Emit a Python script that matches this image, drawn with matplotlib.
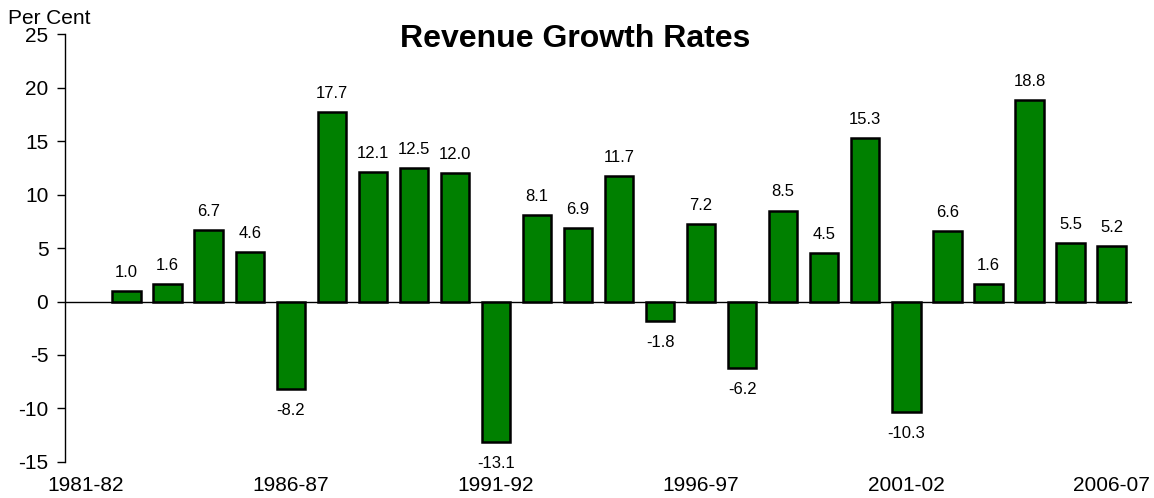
"""Revenue growth rates, 1981-82 to 2006-07 — bar chart with value labels."""
import numpy as np
import matplotlib
matplotlib.use("Agg")
import matplotlib.pyplot as plt

plt.rcParams["font.family"] = ["Liberation Sans", "DejaVu Sans"]
plt.rcParams["axes.unicode_minus"] = False

YEARS = ["1981-82", "1982-83", "1983-84", "1984-85", "1985-86", "1986-87",
         "1987-88", "1988-89", "1989-90", "1990-91", "1991-92", "1992-93",
         "1993-94", "1994-95", "1995-96", "1996-97", "1997-98", "1998-99",
         "1999-00", "2000-01", "2001-02", "2002-03", "2003-04", "2004-05",
         "2005-06", "2006-07"]
# first year has no growth figure
GROWTH = [np.nan, 1.0, 1.6, 6.7, 4.6, -8.2, 17.7, 12.1, 12.5, 12.0, -13.1,
          8.1, 6.9, 11.7, -1.8, 7.2, -6.2, 8.5, 4.5, 15.3, -10.3, 6.6, 1.6,
          18.8, 5.5, 5.2]
LABEL_EVERY = 5
Y_TICKS = [-15, -10, -5, 0, 5, 10, 15, 20, 25]

fig = plt.figure(figsize=(11.54, 4.98), dpi=100)
ax = fig.add_axes([0.0563, 0.0723, 0.9247, 0.8594])

x = np.arange(len(YEARS))
vals = np.array(GROWTH, dtype=float)
ok = ~np.isnan(vals)
ax.bar(x[ok], vals[ok], width=0.69, color="#008000", edgecolor="black",
       linewidth=1.8, zorder=3)
ax.axhline(0, color="black", lw=1.0, zorder=2)

for xi, v in zip(x[ok], vals[ok]):
    if v >= 0:
        ax.annotate(f"{v:.1f}", (xi, v), xytext=(0, 8), textcoords="offset points",
                    ha="center", va="bottom", fontsize=12)
    else:
        ax.annotate(f"{v:.1f}", (xi, v), xytext=(0, -10), textcoords="offset points",
                    ha="center", va="top", fontsize=12)

ax.set_xlim(-0.5, len(YEARS) - 0.5)
ax.set_ylim(Y_TICKS[0], Y_TICKS[-1])
ax.set_yticks(Y_TICKS)
ax.set_xticks(x[::LABEL_EVERY])
ax.set_xticklabels(YEARS[::LABEL_EVERY])
ax.tick_params(axis="x", length=0, pad=10, labelsize=15)
ax.tick_params(axis="y", direction="out", length=6, width=1, pad=6, labelsize=15)
for s in ["top", "right", "bottom"]:
    ax.spines[s].set_visible(False)
ax.spines["left"].set_linewidth(1.0)

fig.text(0.498, 0.922, "Revenue Growth Rates", ha="center", va="center",
         fontsize=23, fontweight="bold")
fig.text(0.007, 0.962, "Per Cent", ha="left", va="center", fontsize=15)

fig.savefig("out.png", dpi=100)
plt.close(fig)
